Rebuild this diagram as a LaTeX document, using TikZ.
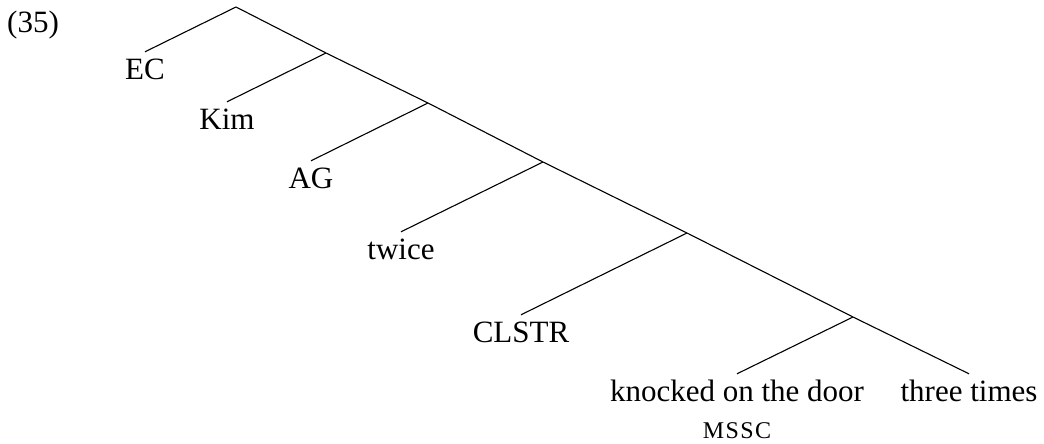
\documentclass[tikz,border=0pt]{standalone}
\usepackage{fontspec}
\setmainfont{Liberation Serif}
\begin{document}
\begin{tikzpicture}[x=1pt,y=-1pt,
  branch/.style={line width=1.1pt},
  leaf/.style={anchor=base,inner xsep=0pt,inner ysep=6pt,text height=21pt,text depth=0pt,font=\fontsize{31}{37}\selectfont},
  sub/.style={anchor=base,inner sep=0pt,font=\fontsize{24}{28}\selectfont\addfontfeature{LetterSpace=6}},
  label/.style={anchor=base west,inner sep=0pt,font=\fontsize{31}{37}\selectfont}]
\useasboundingbox (0,0) rectangle (1044,444);
\node[label] (num) at (7,33) {(35)};
\coordinate (r) at (236,7);
\coordinate (n1) at (326,53);
\coordinate (n2) at (428,103);
\coordinate (n3) at (543,162);
\coordinate (n4) at (687,233);
\coordinate (n5) at (853,317);
\node[leaf] (ec) at (145,79) {EC};
\node[leaf] (kim) at (227,129) {Kim};
\node[leaf] (ag) at (311,188) {AG};
\node[leaf] (tw) at (401,259) {twice};
\node[leaf] (cl) at (521,342) {CLSTR};
\node[leaf] (kn) at (737,401) {knocked on the door};
\node[leaf] (th) at (969,401) {three times};
\node[sub] (ms) at (737,438) {MSSC};
\draw[branch] (ec.north) -- (r) -- (n1) -- (n2) -- (n3) -- (n4) -- (n5) -- (th.north);
\draw[branch] (n1) -- (kim.north);
\draw[branch] (n2) -- (ag.north);
\draw[branch] (n3) -- (tw.north);
\draw[branch] (n4) -- (cl.north);
\draw[branch] (n5) -- (kn.north);
\end{tikzpicture}
\end{document}
